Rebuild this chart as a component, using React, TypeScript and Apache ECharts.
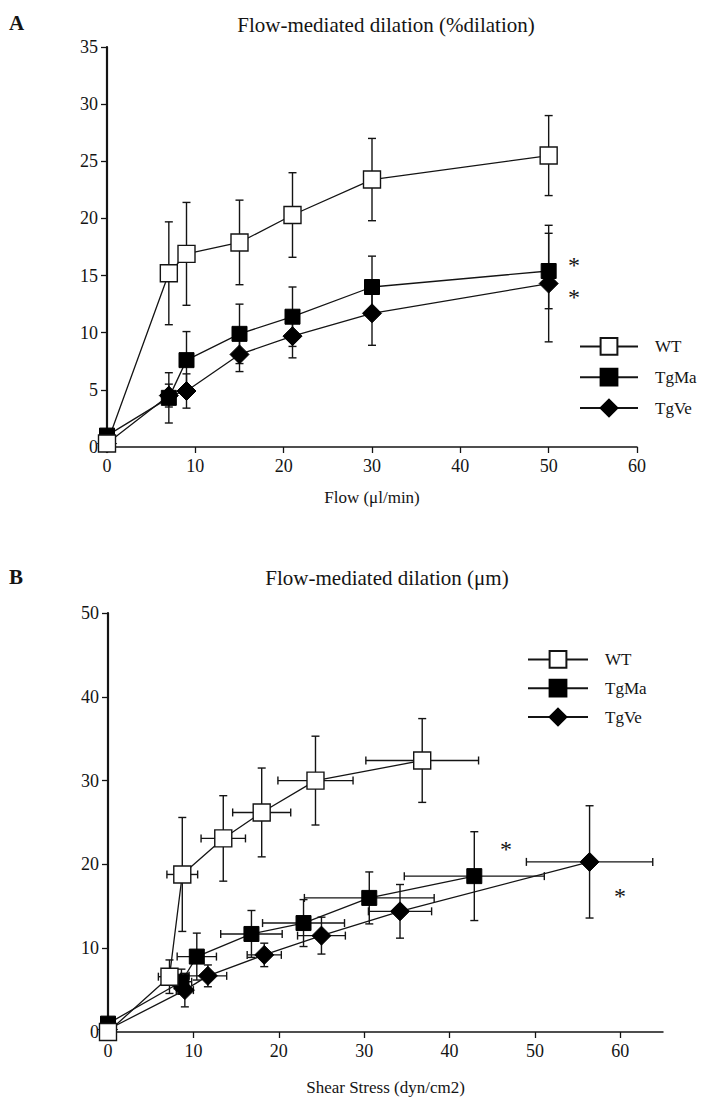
import React, { useEffect, useRef } from "react";
import * as echarts from "echarts";

// ---------- Panel A: Flow-mediated dilation (%dilation) vs Flow ----------
const flowA = [0, 7, 9, 15, 21, 30, 50];
const wtA = [0.3, 15.2, 16.9, 17.9, 20.3, 23.4, 25.5];
const wtAErr = [0, 4.5, 4.5, 3.7, 3.7, 3.6, 3.5];
const tgMaA = [1.0, 4.3, 7.6, 9.9, 11.4, 14.0, 15.4];
const tgMaAErr = [0, 2.2, 2.5, 2.6, 2.6, 2.7, 3.3];
const tgVeA = [0.3, 4.5, 4.9, 8.1, 9.7, 11.7, 14.3];
const tgVeAErr = [0, 1.0, 1.5, 1.5, 1.9, 2.8, 5.1];

// ---------- Panel B: Flow-mediated dilation (µm) vs Shear stress ----------
const wtBx = [0, 7.2, 8.7, 13.5, 18.0, 24.3, 36.8];
const wtBxErr = [0, 1.3, 1.8, 2.6, 3.4, 4.4, 6.6];
const wtBy = [0, 6.6, 18.8, 23.1, 26.2, 30.0, 32.4];
const wtByErr = [0, 2.0, 6.8, 5.1, 5.3, 5.3, 5.0];
const tgMaBx = [0, 8.6, 10.4, 16.8, 22.9, 30.6, 42.9];
const tgMaBxErr = [0, 1.2, 2.3, 3.6, 4.8, 7.6, 8.2];
const tgMaBy = [1.0, 6.0, 9.0, 11.7, 13.0, 16.0, 18.6];
const tgMaByErr = [0, 1.5, 2.8, 2.8, 2.8, 3.1, 5.3];
const tgVeBx = [0, 9.0, 11.7, 18.3, 25.0, 34.2, 56.4];
const tgVeBxErr = [0, 1.0, 2.2, 2.0, 2.8, 3.7, 7.4];
const tgVeBy = [0.3, 5.0, 6.7, 9.2, 11.5, 14.4, 20.3];
const tgVeByErr = [0, 2.0, 1.3, 1.4, 2.2, 3.2, 6.7];

const seriesNames = ["WT", "TgMa", "TgVe"];
const xTicksB = [0, 10, 20, 30, 40, 50, 60];

const FONT = "Liberation Serif";
const INK = "#141414";

function errRender(params: any, api: any) {
  const x = api.value(0);
  const y = api.value(1);
  const xe = api.value(2);
  const ye = api.value(3);
  const cap = 4;
  const st = { stroke: INK, lineWidth: 1.4 };
  const children: any[] = [];
  if (ye > 0) {
    const t = api.coord([x, y + ye]);
    const b = api.coord([x, y - ye]);
    children.push({ type: "line", shape: { x1: t[0], y1: t[1], x2: b[0], y2: b[1] }, style: st });
    children.push({ type: "line", shape: { x1: t[0] - cap, y1: t[1], x2: t[0] + cap, y2: t[1] }, style: st });
    children.push({ type: "line", shape: { x1: b[0] - cap, y1: b[1], x2: b[0] + cap, y2: b[1] }, style: st });
  }
  if (xe > 0) {
    const l = api.coord([x - xe, y]);
    const r = api.coord([x + xe, y]);
    children.push({ type: "line", shape: { x1: l[0], y1: l[1], x2: r[0], y2: r[1] }, style: st });
    children.push({ type: "line", shape: { x1: l[0], y1: l[1] - cap, x2: l[0], y2: l[1] + cap }, style: st });
    children.push({ type: "line", shape: { x1: r[0], y1: r[1] - cap, x2: r[0], y2: r[1] + cap }, style: st });
  }
  return { type: "group", children };
}

const symbolFor: Record<string, any> = {
  WT: { symbol: "rect", symbolSize: 17, itemStyle: { color: "#ffffff", borderColor: INK, borderWidth: 1.4 } },
  TgMa: { symbol: "rect", symbolSize: 15, itemStyle: { color: "#000000", borderColor: "#000000", borderWidth: 1 } },
  TgVe: { symbol: "diamond", symbolSize: 19, itemStyle: { color: "#000000", borderColor: "#000000", borderWidth: 1 } },
};

function lineSeries(name: string, data: number[][], axis: number) {
  return {
    type: "line",
    name,
    xAxisIndex: axis,
    yAxisIndex: axis,
    data,
    ...symbolFor[name],
    lineStyle: { color: INK, width: 1.3 },
    z: 3,
  };
}

function errSeries(name: string, data: number[][], axis: number) {
  return {
    type: "custom",
    name: name + " SEM",
    xAxisIndex: axis,
    yAxisIndex: axis,
    data,
    renderItem: errRender,
    encode: { x: 0, y: 1 },
    itemStyle: { color: INK },
    z: 2,
    silent: true,
  };
}

export default function App() {
  const ref = useRef<HTMLDivElement>(null);
  useEffect(() => {
    if (!ref.current) return;
    const chart = echarts.init(ref.current, undefined, { renderer: "svg" });

    const aW = flowA.map((x, i) => [x, wtA[i]]);
    const aM = flowA.map((x, i) => [x, tgMaA[i]]);
    const aV = flowA.map((x, i) => [x, tgVeA[i]]);
    const aWe = flowA.map((x, i) => [x, wtA[i], 0, wtAErr[i]]);
    const aMe = flowA.map((x, i) => [x, tgMaA[i], 0, tgMaAErr[i]]);
    const aVe = flowA.map((x, i) => [x, tgVeA[i], 0, tgVeAErr[i]]);

    const bW = wtBx.map((x, i) => [x, wtBy[i]]);
    const bM = tgMaBx.map((x, i) => [x, tgMaBy[i]]);
    const bV = tgVeBx.map((x, i) => [x, tgVeBy[i]]);
    const bWe = wtBx.map((x, i) => [x, wtBy[i], wtBxErr[i], wtByErr[i]]);
    const bMe = tgMaBx.map((x, i) => [x, tgMaBy[i], tgMaBxErr[i], tgMaByErr[i]]);
    const bVe = tgVeBx.map((x, i) => [x, tgVeBy[i], tgVeBxErr[i], tgVeByErr[i]]);

    const axisLabel = { fontFamily: FONT, fontSize: 18, color: INK };
    const nameStyle = { fontFamily: FONT, fontSize: 17, color: INK };

    chart.setOption({
      animation: false,
      backgroundColor: "#ffffff",
      textStyle: { fontFamily: FONT },
      grid: [
        { left: 107, top: 47, width: 530, height: 400 },
        { left: 108, top: 613, width: 555, height: 419 },
      ],
      xAxis: [
        {
          type: "value",
          gridIndex: 0,
          min: 0,
          max: 60,
          interval: 10,
          splitLine: { show: false },
          axisLine: { onZero: false, lineStyle: { color: INK, width: 1.5 } },
          axisTick: { show: true, length: 6, lineStyle: { color: INK, width: 1.3 } },
          axisLabel: { ...axisLabel, margin: 10 },
          name: "Flow (μl/min)",
          nameLocation: "middle",
          nameGap: 42,
          nameTextStyle: nameStyle,
        },
        {
          type: "value",
          gridIndex: 1,
          min: 0,
          max: 65,
          interval: 10,
          splitLine: { show: false },
          axisLine: { onZero: false, lineStyle: { color: INK, width: 1.5 } },
          axisTick: { show: true, length: 6, customValues: xTicksB, lineStyle: { color: INK, width: 1.3 } },
          axisLabel: { ...axisLabel, margin: 10, customValues: xTicksB },
          name: "Shear Stress (dyn/cm2)",
          nameLocation: "middle",
          nameGap: 47,
          nameTextStyle: nameStyle,
        },
      ],
      yAxis: [
        {
          type: "value",
          gridIndex: 0,
          min: 0,
          max: 35,
          interval: 5,
          splitLine: { show: false },
          axisLine: { onZero: false, lineStyle: { color: INK, width: 2.2 } },
          axisTick: { show: true, length: 6, lineStyle: { color: INK, width: 1.3 } },
          axisLabel: { ...axisLabel, margin: 9 },
        },
        {
          type: "value",
          gridIndex: 1,
          min: 0,
          max: 50,
          interval: 10,
          splitLine: { show: false },
          axisLine: { onZero: false, lineStyle: { color: INK, width: 2.2 } },
          axisTick: { show: true, length: 6, lineStyle: { color: INK, width: 1.3 } },
          axisLabel: { ...axisLabel, margin: 9 },
        },
      ],
      legend: [
        {
          data: seriesNames,
          orient: "vertical",
          left: 579,
          top: 337,
          itemWidth: 58,
          itemHeight: 21,
          itemGap: 12,
          padding: 0,
          selectedMode: false,
          textStyle: { fontFamily: FONT, fontSize: 17, color: INK, padding: [0, 0, 0, 12] },
        },
        {
          data: seriesNames,
          orient: "vertical",
          left: 527,
          top: 650,
          itemWidth: 60,
          itemHeight: 21,
          itemGap: 10,
          padding: 0,
          selectedMode: false,
          textStyle: { fontFamily: FONT, fontSize: 17, color: INK, padding: [0, 0, 0, 12] },
        },
      ],
      graphic: [
        { type: "text", left: 9, top: 12, style: { text: "A", font: `bold 21px "${FONT}"`, fill: INK } },
        { type: "text", left: 9, top: 566, style: { text: "B", font: `bold 21px "${FONT}"`, fill: INK } },
        {
          type: "text",
          x: 386,
          y: 25,
          style: { text: "Flow-mediated dilation (%dilation)", font: `21px "${FONT}"`, fill: INK, align: "center", verticalAlign: "middle" },
        },
        {
          type: "text",
          x: 387,
          y: 578,
          style: { text: "Flow-mediated dilation (μm)", font: `21px "${FONT}"`, fill: INK, align: "center", verticalAlign: "middle" },
        },
        { type: "text", x: 574, y: 265, style: { text: "*", font: `24px "${FONT}"`, fill: INK, align: "center", verticalAlign: "middle" } },
        { type: "text", x: 574, y: 297, style: { text: "*", font: `24px "${FONT}"`, fill: INK, align: "center", verticalAlign: "middle" } },
        { type: "text", x: 506, y: 849, style: { text: "*", font: `24px "${FONT}"`, fill: INK, align: "center", verticalAlign: "middle" } },
        { type: "text", x: 620, y: 896, style: { text: "*", font: `24px "${FONT}"`, fill: INK, align: "center", verticalAlign: "middle" } },
      ],
      series: [
        errSeries("WT", aWe, 0),
        errSeries("TgMa", aMe, 0),
        errSeries("TgVe", aVe, 0),
        lineSeries("TgVe", aV, 0),
        lineSeries("TgMa", aM, 0),
        lineSeries("WT", aW, 0),
        errSeries("WT", bWe, 1),
        errSeries("TgMa", bMe, 1),
        errSeries("TgVe", bVe, 1),
        lineSeries("TgVe", bV, 1),
        lineSeries("TgMa", bM, 1),
        lineSeries("WT", bW, 1),
      ],
    });
    return () => chart.dispose();
  }, []);

  return (
    <div
      ref={ref}
      style={{ position: "absolute", left: 0, top: 0, width: 710, height: 1112, background: "#fff" }}
    />
  );
}
